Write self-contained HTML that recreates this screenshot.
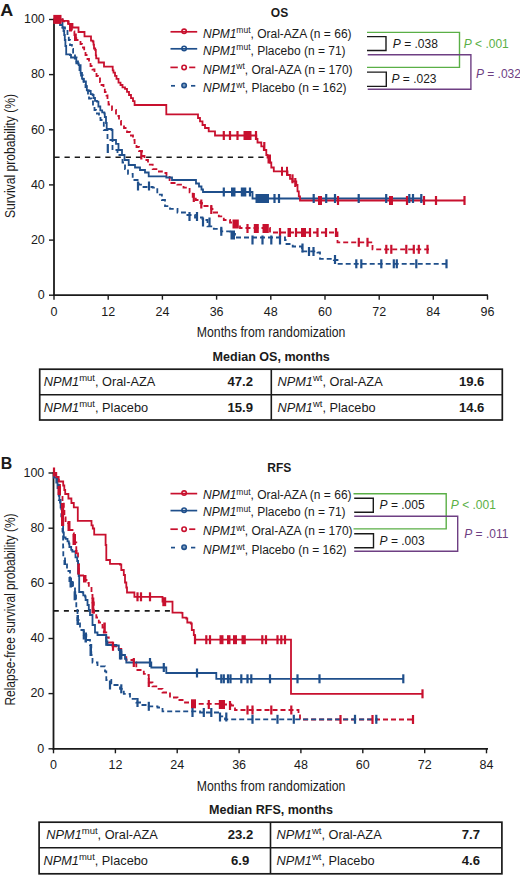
<!DOCTYPE html>
<html><head><meta charset="utf-8"><style>
html,body{margin:0;padding:0;background:#fff;}
body{width:520px;height:875px;overflow:hidden;}
svg{display:block;}
text{font-family:"Liberation Sans",sans-serif;fill:#1a1a1a;}
.pl{font-size:17px;font-weight:bold;}
.ttl{font-size:12px;font-weight:bold;}
.lg{font-size:12px;}
.pv{font-size:12px;}
.tk{font-size:12.5px;}
.ax{font-size:15.5px;}
.mt{font-size:12.5px;font-weight:bold;}
.tb{font-size:12.75px;}
.tbv{font-size:13.1px;font-weight:bold;}
</style></head><body>
<svg width="520" height="875" viewBox="0 0 520 875">
<text x="0.3" y="15.8" class="pl" textLength="13" lengthAdjust="spacingAndGlyphs">A</text>
<text x="270.8" y="17.3" class="ttl">OS</text>
<circle cx="184.1" cy="31.3" r="2.2" fill="#ffffff" stroke="#c8102e" stroke-width="1.6"/>
<line x1="170.5" y1="31.8" x2="197.2" y2="31.8" stroke="#c8102e" stroke-width="1.7"/>
<text x="203" y="37.5" class="lg"><tspan font-style="italic">NPM1</tspan><tspan dy="-4.2" font-size="8.5">mut</tspan><tspan dy="4.2">, Oral-AZA (n = 66)</tspan></text>
<circle cx="184.1" cy="48.4" r="2.2" fill="#ffffff" stroke="#1f4f8b" stroke-width="1.6"/>
<line x1="170.5" y1="48.8" x2="197.2" y2="48.8" stroke="#1f4f8b" stroke-width="1.7"/>
<text x="203" y="54.5" class="lg"><tspan font-style="italic">NPM1</tspan><tspan dy="-4.2" font-size="8.5">mut</tspan><tspan dy="4.2">, Placebo (n = 71)</tspan></text>
<circle cx="184.1" cy="67.4" r="2.2" fill="#ffffff" stroke="#c8102e" stroke-width="1.6"/>
<line x1="170.4" y1="67.4" x2="177.8" y2="67.4" stroke="#c8102e" stroke-width="1.7"/>
<line x1="189.2" y1="67.4" x2="195.3" y2="67.4" stroke="#c8102e" stroke-width="1.7"/>
<text x="203" y="73.5" class="lg"><tspan font-style="italic">NPM1</tspan><tspan dy="-4.2" font-size="8.5">wt</tspan><tspan dy="4.2">, Oral-AZA (n = 170)</tspan></text>
<circle cx="184.1" cy="85.4" r="2.2" fill="#7a9cc0" stroke="#1f4f8b" stroke-width="1.6"/>
<line x1="171" y1="85.8" x2="175" y2="85.8" stroke="#1f4f8b" stroke-width="1.7"/>
<line x1="191" y1="85.8" x2="195.3" y2="85.8" stroke="#1f4f8b" stroke-width="1.7"/>
<text x="203" y="91.9" class="lg"><tspan font-style="italic">NPM1</tspan><tspan dy="-4.2" font-size="8.5">wt</tspan><tspan dy="4.2">, Placebo (n = 162)</tspan></text>
<path d="M367.0,32.4 H459.5 V67.4 H367.0" fill="none" stroke="#5aaf46" stroke-width="1.4"/>
<path d="M367.7,54.8 H470.9 V89.2 H367.7" fill="none" stroke="#6e3f83" stroke-width="1.4"/>
<path d="M367.0,36.6 H386.0 V50.5 H367.0" fill="none" stroke="#1a1a1a" stroke-width="1.4"/>
<path d="M367.0,72.1 H386.3 V86.4 H367.0" fill="none" stroke="#1a1a1a" stroke-width="1.4"/>
<text x="392.8" y="47.6" class="pv" style="fill:#1a1a1a"><tspan font-style="italic">P</tspan> = .038</text>
<text x="391.5" y="83.4" class="pv" style="fill:#1a1a1a"><tspan font-style="italic">P</tspan> = .023</text>
<text x="463.7" y="47.6" class="pv" style="fill:#5aaf46"><tspan font-style="italic">P</tspan> &lt; .001</text>
<text x="475.9" y="77.7" class="pv" style="fill:#6e3f83"><tspan font-style="italic">P</tspan> = .032</text>
<line x1="54.0" y1="18.5" x2="54.0" y2="296.1" stroke="#1a1a1a" stroke-width="1.8"/>
<line x1="53.1" y1="295.2" x2="488.0" y2="295.2" stroke="#1a1a1a" stroke-width="1.8"/>
<line x1="49.0" y1="295.2" x2="54.0" y2="295.2" stroke="#1a1a1a" stroke-width="1.4"/>
<text x="44.8" y="299.0" text-anchor="end" class="tk">0</text>
<line x1="49.0" y1="240.1" x2="54.0" y2="240.1" stroke="#1a1a1a" stroke-width="1.4"/>
<text x="44.8" y="243.9" text-anchor="end" class="tk">20</text>
<line x1="49.0" y1="184.9" x2="54.0" y2="184.9" stroke="#1a1a1a" stroke-width="1.4"/>
<text x="44.8" y="188.7" text-anchor="end" class="tk">40</text>
<line x1="49.0" y1="129.8" x2="54.0" y2="129.8" stroke="#1a1a1a" stroke-width="1.4"/>
<text x="44.8" y="133.6" text-anchor="end" class="tk">60</text>
<line x1="49.0" y1="74.6" x2="54.0" y2="74.6" stroke="#1a1a1a" stroke-width="1.4"/>
<text x="44.8" y="78.4" text-anchor="end" class="tk">80</text>
<line x1="49.0" y1="19.5" x2="54.0" y2="19.5" stroke="#1a1a1a" stroke-width="1.4"/>
<text x="44.8" y="23.3" text-anchor="end" class="tk">100</text>
<line x1="54.0" y1="295.2" x2="54.0" y2="299.7" stroke="#1a1a1a" stroke-width="1.4"/>
<text x="54.0" y="315.6" text-anchor="middle" class="tk">0</text>
<line x1="108.2" y1="295.2" x2="108.2" y2="299.7" stroke="#1a1a1a" stroke-width="1.4"/>
<text x="108.2" y="315.6" text-anchor="middle" class="tk">12</text>
<line x1="162.4" y1="295.2" x2="162.4" y2="299.7" stroke="#1a1a1a" stroke-width="1.4"/>
<text x="162.4" y="315.6" text-anchor="middle" class="tk">24</text>
<line x1="216.6" y1="295.2" x2="216.6" y2="299.7" stroke="#1a1a1a" stroke-width="1.4"/>
<text x="216.6" y="315.6" text-anchor="middle" class="tk">36</text>
<line x1="270.8" y1="295.2" x2="270.8" y2="299.7" stroke="#1a1a1a" stroke-width="1.4"/>
<text x="270.8" y="315.6" text-anchor="middle" class="tk">48</text>
<line x1="325.0" y1="295.2" x2="325.0" y2="299.7" stroke="#1a1a1a" stroke-width="1.4"/>
<text x="325.0" y="315.6" text-anchor="middle" class="tk">60</text>
<line x1="379.2" y1="295.2" x2="379.2" y2="299.7" stroke="#1a1a1a" stroke-width="1.4"/>
<text x="379.2" y="315.6" text-anchor="middle" class="tk">72</text>
<line x1="433.3" y1="295.2" x2="433.3" y2="299.7" stroke="#1a1a1a" stroke-width="1.4"/>
<text x="433.3" y="315.6" text-anchor="middle" class="tk">84</text>
<line x1="487.5" y1="295.2" x2="487.5" y2="299.7" stroke="#1a1a1a" stroke-width="1.4"/>
<text x="487.5" y="315.6" text-anchor="middle" class="tk">96</text>
<line x1="54.3" y1="157.3" x2="266" y2="157.3" stroke="#1a1a1a" stroke-width="1.6" stroke-dasharray="5.3,4.9"/>
<path d="M54.0,19.5 H62.5 V27.5 H65.0 V30.0 H67.5 V36.3 H68.8 V40.0 H70.0 V45.0 H71.9 V48.8 H73.1 V52.5 H75.0 V57.5 H76.5 V61.5 H78.0 V66.0 H79.5 V71.0 H81.0 V75.5 H82.8 V79.0 H83.8 V83.5 H85.5 V87.0 H86.5 V90.5 H88.0 V94.5 H89.0 V98.5 H91.5 V101.5 H93.0 V106.0 H94.5 V110.0 H96.0 V113.5 H99.0 V118.0 H100.5 V120.0 H103.8 V130.0 H107.5 V140.0 H112.5 V150.0 H117.5 V155.0 H122.5 V162.5 H125.0 V169.2 H128.0 V173.8 H132.7 V180.0 H138.8 V184.6 H143.5 V187.0 H152.7 V187.7 H157.3 V194.6 H161.9 V200.0 H165.0 V206.2 H170.0 V208.8 H177.5 V212.5 H185.0 V215.0 H195.0 V217.5 H202.5 V220.0 H207.5 V226.3 H213.8 V228.8 H221.3 V231.3 H230.0 V233.8 H235.0 V237.5 H285.0 V240.0 H286.5 V244.0 H292.7 V246.5 H302.0 V248.0 H302.5 V251.3 H317.5 V252.5 H320.0 V258.8 H333.8 V260.0 H337.5 V263.8 H448.0 V263.8" fill="none" stroke="#1f4f8b" stroke-width="1.8" stroke-dasharray="5,3"/>
<path d="M54.0,19.5 H62.5 V21.3 H68.7 V23.8 H70.6 V27.5 H71.9 V31.3 H74.4 V35.0 H76.3 V40.0 H80.5 V44.0 H82.0 V47.5 H84.2 V52.0 H85.5 V55.0 H87.5 V59.0 H89.0 V62.0 H90.5 V66.0 H92.5 V69.5 H94.5 V72.5 H96.5 V76.0 H98.0 V78.5 H100.0 V82.0 H101.5 V85.0 H103.5 V88.5 H104.8 V92.0 H106.5 V95.5 H107.5 V99.0 H108.5 V104.5 H112.0 V110.0 H116.0 V116.0 H119.0 V121.0 H121.0 V124.5 H124.0 V128.0 H127.0 V132.0 H130.0 V135.5 H133.0 V140.0 H134.6 V143.0 H136.5 V147.0 H139.0 V151.0 H142.0 V156.0 H144.5 V160.0 H148.0 V164.6 H152.7 V169.2 H157.3 V171.5 H161.9 V173.0 H166.5 V175.4 H169.6 V183.0 H177.3 V184.6 H183.5 V187.7 H189.6 V192.3 H192.7 V196.9 H195.8 V200.0 H200.4 V203.0 H202.0 V206.0 H207.5 V206.0 H211.3 V208.8 H212.5 V212.5 H218.8 V216.3 H223.8 V220.0 H230.0 V222.5 H235.0 V225.0 H240.0 V228.0 H270.0 V232.5 H337.5 V242.3 H372.5 V249.3 H429.0 V249.3" fill="none" stroke="#c8102e" stroke-width="1.8" stroke-dasharray="5,3"/>
<path d="M54.0,19.5 H58.0 V22.0 H60.0 V25.0 H62.5 V27.5 H63.5 V31.0 H64.2 V35.0 H64.8 V40.0 H65.4 V46.0 H66.2 V54.3 H70.0 V55.0 H71.0 V57.5 H74.8 V58.5 H76.3 V63.3 H78.7 V65.2 H80.6 V72.9 H82.0 V78.7 H83.5 V81.5 H85.9 V85.9 H86.8 V90.4 H89.3 V91.0 H90.7 V94.2 H92.6 V95.0 H93.6 V98.0 H95.0 V100.8 H97.0 V101.7 H98.4 V106.5 H100.3 V110.4 H102.2 V112.3 H104.3 V113.5 H104.8 V117.0 H106.0 V123.0 H106.7 V129.0 H111.5 V130.0 H112.5 V140.0 H116.0 V143.8 H118.5 V150.0 H122.0 V155.0 H124.5 V160.0 H128.7 V165.0 H135.0 V167.5 H140.0 V170.0 H145.0 V172.5 H148.7 V176.3 H166.3 V177.5 H172.0 V180.0 H196.0 V183.5 H199.0 V186.5 H201.5 V189.5 H203.0 V192.0 H252.5 V198.5 H421.7 V198.5" fill="none" stroke="#1f4f8b" stroke-width="1.8"/>
<path d="M54.0,19.5 H62.5 V20.8 H68.0 V23.8 H72.5 V27.5 H78.5 V32.0 H84.5 V36.3 H91.0 V40.6 H92.7 V41.5 H93.5 V44.6 H94.0 V48.5 H95.2 V50.0 H95.8 V55.4 H96.2 V58.3 H98.6 V62.5 H104.0 V66.7 H112.7 V70.4 H113.5 V72.7 H115.0 V75.8 H116.5 V78.8 H118.5 V82.7 H120.5 V85.0 H122.5 V87.3 H125.0 V88.8 H127.0 V91.9 H129.0 V95.0 H131.0 V98.1 H133.0 V101.2 H134.6 V105.0 H166.3 V114.3 H198.0 V118.0 H200.0 V121.3 H202.5 V125.0 H205.0 V128.0 H208.7 V131.3 H215.0 V135.5 H256.3 V138.8 H257.5 V142.5 H261.3 V146.3 H263.8 V150.0 H266.3 V155.0 H267.5 V157.5 H270.0 V162.5 H271.3 V167.5 H273.8 V171.3 H287.5 V175.0 H290.0 V178.8 H292.5 V181.3 H296.3 V185.0 H297.5 V191.3 H298.8 V196.3 H300.0 V200.5 H465.0 V200.5" fill="none" stroke="#c8102e" stroke-width="1.8"/>
<rect x="53.3" y="14.9" width="8.2" height="9.0" fill="#c8102e"/>
<rect x="69" y="23.5" width="3" height="8" fill="#c8102e"/>
<rect x="74" y="33.5" width="2.8" height="7.5" fill="#c8102e"/>
<rect x="222.7" y="131.0" width="2.2" height="9.0" fill="#c8102e"/>
<rect x="228.9" y="131.0" width="2.2" height="9.0" fill="#c8102e"/>
<rect x="236.4" y="131.0" width="2.2" height="9.0" fill="#c8102e"/>
<rect x="243.5" y="131.0" width="8.0" height="9.0" fill="#c8102e"/>
<rect x="254.9" y="131.0" width="2.2" height="9.0" fill="#c8102e"/>
<rect x="263.2" y="142.0" width="2.2" height="9.0" fill="#c8102e"/>
<rect x="267.5" y="154.5" width="3.5" height="9.0" fill="#c8102e"/>
<rect x="281.0" y="166.8" width="2.0" height="9.0" fill="#c8102e"/>
<rect x="286.0" y="166.8" width="2.0" height="9.0" fill="#c8102e"/>
<rect x="291.4" y="174.3" width="2.2" height="9.0" fill="#c8102e"/>
<rect x="294.2" y="178.0" width="2.2" height="9.0" fill="#c8102e"/>
<rect x="318.0" y="196.0" width="4.0" height="9.0" fill="#c8102e"/>
<rect x="336.9" y="196.0" width="2.2" height="9.0" fill="#c8102e"/>
<rect x="389.0" y="196.0" width="4.0" height="9.0" fill="#c8102e"/>
<rect x="405.9" y="196.0" width="2.2" height="9.0" fill="#c8102e"/>
<rect x="422.9" y="196.0" width="2.2" height="9.0" fill="#c8102e"/>
<rect x="434.9" y="196.0" width="2.2" height="9.0" fill="#c8102e"/>
<rect x="463.4" y="196.0" width="2.2" height="9.0" fill="#c8102e"/>
<rect x="222.7" y="187.5" width="2.2" height="9.0" fill="#1f4f8b"/>
<rect x="231.0" y="187.5" width="4.5" height="9.0" fill="#1f4f8b"/>
<rect x="240.8" y="187.5" width="5.5" height="9.0" fill="#1f4f8b"/>
<rect x="248.9" y="187.5" width="2.2" height="9.0" fill="#1f4f8b"/>
<rect x="255.5" y="194.0" width="13.5" height="9.0" fill="#1f4f8b"/>
<rect x="273.4" y="194.0" width="2.2" height="9.0" fill="#1f4f8b"/>
<rect x="277.9" y="194.0" width="2.2" height="9.0" fill="#1f4f8b"/>
<rect x="312.6" y="194.0" width="2.2" height="9.0" fill="#1f4f8b"/>
<rect x="325.1" y="194.0" width="2.2" height="9.0" fill="#1f4f8b"/>
<rect x="333.9" y="194.0" width="2.2" height="9.0" fill="#1f4f8b"/>
<rect x="357.6" y="194.0" width="2.2" height="9.0" fill="#1f4f8b"/>
<rect x="385.1" y="194.0" width="2.2" height="9.0" fill="#1f4f8b"/>
<rect x="408.2" y="194.0" width="2.2" height="9.0" fill="#1f4f8b"/>
<rect x="411.9" y="194.0" width="2.2" height="9.0" fill="#1f4f8b"/>
<rect x="420.2" y="194.0" width="2.2" height="9.0" fill="#1f4f8b"/>
<rect x="192.7" y="193.0" width="2.2" height="9.0" fill="#c8102e"/>
<rect x="200.2" y="199.5" width="2.2" height="9.0" fill="#c8102e"/>
<rect x="210.2" y="205.0" width="2.2" height="9.0" fill="#c8102e"/>
<rect x="140.2" y="150.5" width="2.2" height="9.0" fill="#c8102e"/>
<rect x="232.5" y="219.5" width="6.3" height="9.0" fill="#c8102e"/>
<rect x="246.4" y="224.0" width="2.2" height="9.0" fill="#c8102e"/>
<rect x="253.8" y="224.0" width="5.0" height="9.0" fill="#c8102e"/>
<rect x="262.5" y="224.0" width="6.3" height="9.0" fill="#c8102e"/>
<rect x="278.9" y="228.0" width="2.2" height="9.0" fill="#c8102e"/>
<rect x="287.5" y="228.0" width="3.5" height="9.0" fill="#c8102e"/>
<rect x="294.9" y="228.0" width="2.2" height="9.0" fill="#c8102e"/>
<rect x="301.0" y="228.0" width="5.0" height="9.0" fill="#c8102e"/>
<rect x="308.9" y="228.0" width="2.2" height="9.0" fill="#c8102e"/>
<rect x="316.4" y="228.0" width="2.2" height="9.0" fill="#c8102e"/>
<rect x="324.9" y="228.0" width="2.2" height="9.0" fill="#c8102e"/>
<rect x="334.9" y="228.0" width="2.2" height="9.0" fill="#c8102e"/>
<rect x="357.7" y="237.8" width="2.2" height="9.0" fill="#c8102e"/>
<rect x="366.4" y="237.8" width="2.2" height="9.0" fill="#c8102e"/>
<rect x="385.2" y="244.8" width="2.2" height="9.0" fill="#c8102e"/>
<rect x="390.2" y="244.8" width="2.2" height="9.0" fill="#c8102e"/>
<rect x="405.2" y="244.8" width="2.2" height="9.0" fill="#c8102e"/>
<rect x="412.7" y="244.8" width="2.2" height="9.0" fill="#c8102e"/>
<rect x="417.7" y="244.8" width="2.2" height="9.0" fill="#c8102e"/>
<rect x="426.4" y="244.8" width="2.2" height="9.0" fill="#c8102e"/>
<rect x="106.7" y="144.0" width="2.2" height="9.0" fill="#1f4f8b"/>
<rect x="136.9" y="181.5" width="2.2" height="9.0" fill="#1f4f8b"/>
<rect x="147.9" y="181.5" width="2.2" height="9.0" fill="#1f4f8b"/>
<rect x="188.4" y="212.0" width="2.2" height="9.0" fill="#1f4f8b"/>
<rect x="195.9" y="212.0" width="2.2" height="9.0" fill="#1f4f8b"/>
<rect x="201.9" y="217.5" width="2.2" height="9.0" fill="#1f4f8b"/>
<rect x="208.4" y="217.5" width="2.2" height="9.0" fill="#1f4f8b"/>
<rect x="220.2" y="226.8" width="2.2" height="9.0" fill="#1f4f8b"/>
<rect x="230.5" y="230.5" width="4.5" height="9.0" fill="#1f4f8b"/>
<rect x="251.4" y="235.5" width="2.2" height="9.0" fill="#1f4f8b"/>
<rect x="261.4" y="235.5" width="2.2" height="9.0" fill="#1f4f8b"/>
<rect x="270.2" y="235.5" width="2.2" height="9.0" fill="#1f4f8b"/>
<rect x="278.9" y="235.5" width="2.2" height="9.0" fill="#1f4f8b"/>
<rect x="301.4" y="243.5" width="2.2" height="9.0" fill="#1f4f8b"/>
<rect x="307.9" y="247.0" width="2.2" height="9.0" fill="#1f4f8b"/>
<rect x="312.4" y="247.0" width="2.2" height="9.0" fill="#1f4f8b"/>
<rect x="333.9" y="255.0" width="2.2" height="9.0" fill="#1f4f8b"/>
<rect x="355.2" y="259.3" width="2.2" height="9.0" fill="#1f4f8b"/>
<rect x="360.2" y="259.3" width="2.2" height="9.0" fill="#1f4f8b"/>
<rect x="380.2" y="259.3" width="2.2" height="9.0" fill="#1f4f8b"/>
<rect x="392.7" y="259.3" width="2.2" height="9.0" fill="#1f4f8b"/>
<rect x="395.7" y="259.3" width="2.2" height="9.0" fill="#1f4f8b"/>
<rect x="415.2" y="259.3" width="2.2" height="9.0" fill="#1f4f8b"/>
<rect x="445.4" y="259.3" width="2.2" height="9.0" fill="#1f4f8b"/>
<text x="15.3" y="218" class="ax" transform="rotate(-90 15.3 218)" textLength="124" lengthAdjust="spacingAndGlyphs">Survival probability (%)</text>
<text x="196.8" y="337.1" class="ax" textLength="148.6" lengthAdjust="spacingAndGlyphs">Months from randomization</text>
<text x="212.6" y="360.5" class="mt" textLength="117.2" lengthAdjust="spacingAndGlyphs">Median OS, months</text>
<rect x="39.7" y="369.2" width="462.6" height="50.8" fill="none" stroke="#1a1a1a" stroke-width="1.7"/>
<line x1="39.7" y1="394.8" x2="502.3" y2="394.8" stroke="#1a1a1a" stroke-width="1.6"/>
<line x1="271.3" y1="369.2" x2="271.3" y2="420.0" stroke="#1a1a1a" stroke-width="1.6"/>
<text x="43.7" y="385.6" class="tb"><tspan font-style="italic">NPM1</tspan><tspan dy="-4.8" font-size="9.5">mut</tspan><tspan dy="4.8">, Oral-AZA</tspan></text>
<text x="253.0" y="385.6" class="tbv" text-anchor="end">47.2</text>
<text x="43.7" y="411.7" class="tb"><tspan font-style="italic">NPM1</tspan><tspan dy="-4.8" font-size="9.5">mut</tspan><tspan dy="4.8">, Placebo</tspan></text>
<text x="253.0" y="411.7" class="tbv" text-anchor="end">15.9</text>
<text x="277.5" y="385.6" class="tb"><tspan font-style="italic">NPM1</tspan><tspan dy="-4.8" font-size="9.5">wt</tspan><tspan dy="4.8">, Oral-AZA</tspan></text>
<text x="484.4" y="385.6" class="tbv" text-anchor="end">19.6</text>
<text x="277.5" y="411.7" class="tb"><tspan font-style="italic">NPM1</tspan><tspan dy="-4.8" font-size="9.5">wt</tspan><tspan dy="4.8">, Placebo</tspan></text>
<text x="484.4" y="411.7" class="tbv" text-anchor="end">14.6</text>
<text x="0.8" y="469.1" class="pl" textLength="11.5" lengthAdjust="spacingAndGlyphs">B</text>
<text x="267.3" y="471.8" class="ttl">RFS</text>
<circle cx="184.1" cy="493.1" r="2.2" fill="#ffffff" stroke="#c8102e" stroke-width="1.6"/>
<line x1="170.5" y1="493.6" x2="197.2" y2="493.6" stroke="#c8102e" stroke-width="1.7"/>
<text x="203" y="499.3" class="lg"><tspan font-style="italic">NPM1</tspan><tspan dy="-4.2" font-size="8.5">mut</tspan><tspan dy="4.2">, Oral-AZA (n = 66)</tspan></text>
<circle cx="184.1" cy="510.2" r="2.2" fill="#ffffff" stroke="#1f4f8b" stroke-width="1.6"/>
<line x1="170.5" y1="510.6" x2="197.2" y2="510.6" stroke="#1f4f8b" stroke-width="1.7"/>
<text x="203" y="516.3" class="lg"><tspan font-style="italic">NPM1</tspan><tspan dy="-4.2" font-size="8.5">mut</tspan><tspan dy="4.2">, Placebo (n = 71)</tspan></text>
<circle cx="184.1" cy="529.2" r="2.2" fill="#ffffff" stroke="#c8102e" stroke-width="1.6"/>
<line x1="170.4" y1="529.2" x2="177.8" y2="529.2" stroke="#c8102e" stroke-width="1.7"/>
<line x1="189.2" y1="529.2" x2="195.3" y2="529.2" stroke="#c8102e" stroke-width="1.7"/>
<text x="203" y="535.3" class="lg"><tspan font-style="italic">NPM1</tspan><tspan dy="-4.2" font-size="8.5">wt</tspan><tspan dy="4.2">, Oral-AZA (n = 170)</tspan></text>
<circle cx="184.1" cy="547.2" r="2.2" fill="#7a9cc0" stroke="#1f4f8b" stroke-width="1.6"/>
<line x1="171" y1="547.6" x2="175" y2="547.6" stroke="#1f4f8b" stroke-width="1.7"/>
<line x1="191" y1="547.6" x2="195.3" y2="547.6" stroke="#1f4f8b" stroke-width="1.7"/>
<text x="203" y="553.7" class="lg"><tspan font-style="italic">NPM1</tspan><tspan dy="-4.2" font-size="8.5">wt</tspan><tspan dy="4.2">, Placebo (n = 162)</tspan></text>
<path d="M353.5,493.8 H446.2 V528.9 H353.5" fill="none" stroke="#5aaf46" stroke-width="1.4"/>
<path d="M354.2,516.2 H457.7 V551.3 H354.2" fill="none" stroke="#6e3f83" stroke-width="1.4"/>
<path d="M354.2,498.2 H373.3 V512.3 H354.2" fill="none" stroke="#1a1a1a" stroke-width="1.4"/>
<path d="M354.2,533.8 H373.5 V547.7 H354.2" fill="none" stroke="#1a1a1a" stroke-width="1.4"/>
<text x="379.6" y="509.2" class="pv" style="fill:#1a1a1a"><tspan font-style="italic">P</tspan> = .005</text>
<text x="379.6" y="544.6" class="pv" style="fill:#1a1a1a"><tspan font-style="italic">P</tspan> = .003</text>
<text x="450.8" y="508.8" class="pv" style="fill:#5aaf46"><tspan font-style="italic">P</tspan> &lt; .001</text>
<text x="464.2" y="537.7" class="pv" style="fill:#6e3f83"><tspan font-style="italic">P</tspan> = .011</text>
<line x1="53.5" y1="472.0" x2="53.5" y2="749.7" stroke="#1a1a1a" stroke-width="1.8"/>
<line x1="52.6" y1="748.8" x2="488.0" y2="748.8" stroke="#1a1a1a" stroke-width="1.8"/>
<line x1="48.5" y1="748.8" x2="53.5" y2="748.8" stroke="#1a1a1a" stroke-width="1.4"/>
<text x="44.3" y="752.6" text-anchor="end" class="tk">0</text>
<line x1="48.5" y1="693.6" x2="53.5" y2="693.6" stroke="#1a1a1a" stroke-width="1.4"/>
<text x="44.3" y="697.4" text-anchor="end" class="tk">20</text>
<line x1="48.5" y1="638.5" x2="53.5" y2="638.5" stroke="#1a1a1a" stroke-width="1.4"/>
<text x="44.3" y="642.3" text-anchor="end" class="tk">40</text>
<line x1="48.5" y1="583.3" x2="53.5" y2="583.3" stroke="#1a1a1a" stroke-width="1.4"/>
<text x="44.3" y="587.1" text-anchor="end" class="tk">60</text>
<line x1="48.5" y1="528.2" x2="53.5" y2="528.2" stroke="#1a1a1a" stroke-width="1.4"/>
<text x="44.3" y="532.0" text-anchor="end" class="tk">80</text>
<line x1="48.5" y1="473.0" x2="53.5" y2="473.0" stroke="#1a1a1a" stroke-width="1.4"/>
<text x="44.3" y="476.8" text-anchor="end" class="tk">100</text>
<line x1="53.5" y1="748.8" x2="53.5" y2="753.3" stroke="#1a1a1a" stroke-width="1.4"/>
<text x="53.5" y="769.0" text-anchor="middle" class="tk">0</text>
<line x1="115.4" y1="748.8" x2="115.4" y2="753.3" stroke="#1a1a1a" stroke-width="1.4"/>
<text x="115.4" y="769.0" text-anchor="middle" class="tk">12</text>
<line x1="177.2" y1="748.8" x2="177.2" y2="753.3" stroke="#1a1a1a" stroke-width="1.4"/>
<text x="177.2" y="769.0" text-anchor="middle" class="tk">24</text>
<line x1="239.1" y1="748.8" x2="239.1" y2="753.3" stroke="#1a1a1a" stroke-width="1.4"/>
<text x="239.1" y="769.0" text-anchor="middle" class="tk">36</text>
<line x1="300.9" y1="748.8" x2="300.9" y2="753.3" stroke="#1a1a1a" stroke-width="1.4"/>
<text x="300.9" y="769.0" text-anchor="middle" class="tk">48</text>
<line x1="362.8" y1="748.8" x2="362.8" y2="753.3" stroke="#1a1a1a" stroke-width="1.4"/>
<text x="362.8" y="769.0" text-anchor="middle" class="tk">60</text>
<line x1="424.7" y1="748.8" x2="424.7" y2="753.3" stroke="#1a1a1a" stroke-width="1.4"/>
<text x="424.7" y="769.0" text-anchor="middle" class="tk">72</text>
<line x1="486.5" y1="748.8" x2="486.5" y2="753.3" stroke="#1a1a1a" stroke-width="1.4"/>
<text x="486.5" y="769.0" text-anchor="middle" class="tk">84</text>
<line x1="53.8" y1="610.9" x2="171.5" y2="610.9" stroke="#1a1a1a" stroke-width="1.6" stroke-dasharray="5,5.1"/>
<path d="M53.5,473.0 H55.0 V475.0 H57.0 V480.0 H58.8 V485.0 H60.0 V495.0 H62.5 V502.5 H63.8 V510.0 H64.4 V517.5 H65.6 V521.9 H68.1 V523.1 H68.8 V530.0 H72.5 V533.1 H73.8 V536.3 H75.0 V542.5 H76.3 V552.5 H76.5 V552.5 H78.0 V564.0 H78.8 V575.5 H84.5 V580.0 H86.5 V583.0 H88.8 V587.0 H91.5 V595.0 H92.5 V602.5 H93.8 V612.5 H96.3 V617.5 H98.8 V622.5 H102.5 V627.5 H103.8 V632.5 H106.3 V637.5 H108.8 V642.5 H112.5 V646.3 H117.5 V648.8 H121.3 V655.0 H126.3 V660.0 H133.8 V662.5 H136.3 V670.0 H143.8 V673.8 H147.5 V675.0 H148.8 V682.5 H152.5 V686.3 H157.5 V688.8 H162.5 V692.5 H170.0 V697.5 H177.5 V700.0 H185.0 V702.5 H192.5 V703.8 H220.0 V704.5 H231.3 V705.5 H235.0 V710.0 H297.7 V710.0 H298.5 V713.8 H300.0 V719.5 H413.0 V719.5" fill="none" stroke="#c8102e" stroke-width="1.8" stroke-dasharray="5,3"/>
<path d="M53.5,473.0 H53.8 V477.5 H57.5 V485.0 H58.8 V500.0 H60.0 V506.3 H61.3 V516.3 H62.5 V531.3 H63.1 V537.5 H63.1 V547.5 H63.3 V557.0 H65.0 V563.0 H67.0 V571.0 H70.0 V580.0 H73.0 V587.0 H75.0 V592.0 H76.0 V600.0 H76.3 V610.0 H77.5 V620.0 H80.0 V630.0 H83.8 V635.0 H86.3 V640.0 H90.0 V645.0 H91.3 V655.0 H92.5 V662.5 H97.5 V666.3 H105.0 V671.3 H106.3 V680.0 H111.3 V685.0 H120.0 V688.8 H123.8 V693.8 H130.0 V698.8 H136.3 V702.5 H141.3 V705.0 H148.8 V706.3 H157.5 V707.5 H162.5 V711.3 H200.0 V712.5 H220.0 V716.3 H225.0 V719.3 H378.0 V719.3" fill="none" stroke="#1f4f8b" stroke-width="1.8" stroke-dasharray="5,3"/>
<path d="M53.5,473.0 H54.5 V477.5 H56.3 V482.5 H57.5 V488.0 H58.8 V495.0 H59.4 V500.0 H60.6 V507.5 H61.9 V515.0 H62.5 V525.0 H63.1 V532.5 H63.8 V537.5 H65.6 V538.8 H67.5 V541.3 H68.8 V543.5 H69.4 V547.0 H71.2 V549.8 H72.3 V551.5 H75.5 V557.3 H77.2 V561.0 H78.1 V573.5 H78.7 V576.0 H79.2 V592.0 H82.7 V592.5 H83.3 V595.4 H85.0 V596.5 H85.6 V600.0 H87.5 V605.0 H88.8 V610.0 H90.0 V615.0 H92.5 V625.0 H95.0 V632.5 H97.5 V635.0 H103.8 V635.0 H106.3 V641.3 H107.5 V645.0 H116.3 V645.5 H118.8 V650.0 H121.3 V655.0 H125.0 V658.8 H126.3 V662.5 H150.0 V662.5 H151.3 V667.5 H163.8 V667.5 H166.3 V673.0 H215.0 V673.0 H216.3 V678.8 H403.3 V678.8" fill="none" stroke="#1f4f8b" stroke-width="1.8"/>
<path d="M53.5,473.0 H56.3 V477.0 H58.7 V481.5 H63.2 V485.5 H64.3 V490.0 H65.2 V494.0 H68.4 V498.5 H71.4 V503.0 H73.8 V507.3 H77.8 V520.8 H91.5 V525.4 H92.8 V528.5 H94.2 V534.6 H105.6 V545.0 H106.3 V560.0 H110.0 V563.8 H120.0 V564.5 H121.3 V570.0 H123.8 V575.0 H125.0 V582.5 H126.3 V587.5 H127.0 V592.5 H134.4 V596.8 H162.5 V601.7 H172.5 V612.7 H181.5 V612.8 H182.5 V617.7 H186.3 V618.5 H187.3 V622.5 H190.8 V623.5 H191.8 V630.0 H193.8 V635.0 H195.0 V639.7 H291.0 V639.7 H291.0 V693.8 H422.5 V693.8" fill="none" stroke="#c8102e" stroke-width="1.8"/>
<rect x="52.9" y="467.5" width="2.2" height="9.0" fill="#c8102e"/>
<rect x="136.4" y="592.3" width="2.2" height="9.0" fill="#c8102e"/>
<rect x="139.9" y="592.3" width="2.2" height="9.0" fill="#c8102e"/>
<rect x="148.9" y="592.3" width="2.2" height="9.0" fill="#c8102e"/>
<rect x="162.3" y="597.2" width="3.9" height="9.0" fill="#c8102e"/>
<rect x="193.9" y="635.2" width="2.2" height="9.0" fill="#c8102e"/>
<rect x="205.2" y="635.2" width="2.2" height="9.0" fill="#c8102e"/>
<rect x="208.9" y="635.2" width="2.2" height="9.0" fill="#c8102e"/>
<rect x="219.5" y="635.2" width="4.0" height="9.0" fill="#c8102e"/>
<rect x="227.0" y="635.2" width="3.5" height="9.0" fill="#c8102e"/>
<rect x="233.0" y="635.2" width="4.0" height="9.0" fill="#c8102e"/>
<rect x="241.5" y="635.2" width="4.3" height="9.0" fill="#c8102e"/>
<rect x="261.2" y="635.2" width="2.2" height="9.0" fill="#c8102e"/>
<rect x="264.9" y="635.2" width="2.2" height="9.0" fill="#c8102e"/>
<rect x="276.4" y="635.2" width="2.2" height="9.0" fill="#c8102e"/>
<rect x="280.2" y="635.2" width="2.2" height="9.0" fill="#c8102e"/>
<rect x="283.9" y="635.2" width="2.2" height="9.0" fill="#c8102e"/>
<rect x="421.4" y="689.3" width="2.2" height="9.0" fill="#c8102e"/>
<rect x="105.2" y="636.8" width="2.2" height="9.0" fill="#1f4f8b"/>
<rect x="118.9" y="650.5" width="2.2" height="9.0" fill="#1f4f8b"/>
<rect x="120.2" y="650.5" width="2.2" height="9.0" fill="#1f4f8b"/>
<rect x="148.9" y="658.0" width="2.2" height="9.0" fill="#1f4f8b"/>
<rect x="162.7" y="663.0" width="2.2" height="9.0" fill="#1f4f8b"/>
<rect x="195.9" y="668.5" width="2.2" height="9.0" fill="#1f4f8b"/>
<rect x="220.2" y="674.3" width="2.2" height="9.0" fill="#1f4f8b"/>
<rect x="222.7" y="674.3" width="2.2" height="9.0" fill="#1f4f8b"/>
<rect x="226.9" y="674.3" width="2.2" height="9.0" fill="#1f4f8b"/>
<rect x="229.4" y="674.3" width="2.2" height="9.0" fill="#1f4f8b"/>
<rect x="240.2" y="674.3" width="2.2" height="9.0" fill="#1f4f8b"/>
<rect x="246.4" y="674.3" width="2.2" height="9.0" fill="#1f4f8b"/>
<rect x="250.2" y="674.3" width="2.2" height="9.0" fill="#1f4f8b"/>
<rect x="268.9" y="674.3" width="2.2" height="9.0" fill="#1f4f8b"/>
<rect x="296.4" y="674.3" width="2.2" height="9.0" fill="#1f4f8b"/>
<rect x="318.4" y="674.3" width="2.2" height="9.0" fill="#1f4f8b"/>
<rect x="402.2" y="674.3" width="2.2" height="9.0" fill="#1f4f8b"/>
<rect x="57.5" y="486" width="3.5" height="9" fill="#c8102e"/>
<rect x="61" y="503" width="3.2" height="23" fill="#c8102e"/>
<rect x="67.5" y="521" width="3" height="10" fill="#c8102e"/>
<rect x="72.5" y="534" width="3.5" height="11" fill="#c8102e"/>
<rect x="75" y="550" width="2.5" height="4" fill="#c8102e"/>
<rect x="77.3" y="564" width="2.6" height="10.5" fill="#c8102e"/>
<rect x="83" y="575" width="3.5" height="7.5" fill="#c8102e"/>
<rect x="91.5" y="597.5" width="2.8" height="16" fill="#c8102e"/>
<rect x="103.3" y="622.5" width="2.5" height="10" fill="#c8102e"/>
<rect x="111.9" y="641.8" width="2.2" height="9.0" fill="#c8102e"/>
<rect x="132.7" y="658.0" width="2.2" height="9.0" fill="#c8102e"/>
<rect x="147.7" y="678.0" width="2.2" height="9.0" fill="#c8102e"/>
<rect x="191.0" y="699.3" width="5.0" height="9.0" fill="#c8102e"/>
<rect x="207.7" y="700.0" width="2.2" height="9.0" fill="#c8102e"/>
<rect x="218.8" y="700.0" width="6.2" height="9.0" fill="#c8102e"/>
<rect x="228.9" y="701.0" width="2.2" height="9.0" fill="#c8102e"/>
<rect x="246.4" y="705.5" width="2.2" height="9.0" fill="#c8102e"/>
<rect x="251.4" y="705.5" width="2.2" height="9.0" fill="#c8102e"/>
<rect x="270.2" y="705.5" width="2.2" height="9.0" fill="#c8102e"/>
<rect x="290.2" y="705.5" width="2.2" height="9.0" fill="#c8102e"/>
<rect x="339.4" y="715.0" width="2.2" height="9.0" fill="#c8102e"/>
<rect x="371.4" y="715.0" width="2.2" height="9.0" fill="#c8102e"/>
<rect x="411.9" y="715.0" width="2.2" height="9.0" fill="#c8102e"/>
<rect x="63.5" y="560" width="2.5" height="5" fill="#1f4f8b"/>
<rect x="69.5" y="577.5" width="2.5" height="10" fill="#1f4f8b"/>
<rect x="73.6" y="591.3" width="2.6" height="9" fill="#1f4f8b"/>
<rect x="68.5" y="577" width="2.5" height="5" fill="#1f4f8b"/>
<rect x="70.7" y="581" width="2.5" height="6" fill="#1f4f8b"/>
<rect x="76.5" y="615" width="2.5" height="10" fill="#1f4f8b"/>
<rect x="84.5" y="632.5" width="2.5" height="10" fill="#1f4f8b"/>
<rect x="89.5" y="645" width="2.5" height="11" fill="#1f4f8b"/>
<rect x="82.7" y="630.5" width="2.2" height="9.0" fill="#1f4f8b"/>
<rect x="108.9" y="680.5" width="2.2" height="9.0" fill="#1f4f8b"/>
<rect x="120.2" y="684.3" width="2.2" height="9.0" fill="#1f4f8b"/>
<rect x="136.4" y="698.0" width="2.2" height="9.0" fill="#1f4f8b"/>
<rect x="147.7" y="701.8" width="2.2" height="9.0" fill="#1f4f8b"/>
<rect x="191.4" y="708.0" width="2.2" height="9.0" fill="#1f4f8b"/>
<rect x="202.7" y="708.0" width="2.2" height="9.0" fill="#1f4f8b"/>
<rect x="210.2" y="708.0" width="2.2" height="9.0" fill="#1f4f8b"/>
<rect x="218.9" y="712.5" width="2.2" height="9.0" fill="#1f4f8b"/>
<rect x="225.2" y="712.5" width="2.2" height="9.0" fill="#1f4f8b"/>
<rect x="251.4" y="714.8" width="2.2" height="9.0" fill="#1f4f8b"/>
<rect x="276.4" y="714.8" width="2.2" height="9.0" fill="#1f4f8b"/>
<rect x="292.7" y="714.8" width="2.2" height="9.0" fill="#1f4f8b"/>
<rect x="353.9" y="714.8" width="2.2" height="9.0" fill="#1f4f8b"/>
<rect x="375.2" y="714.8" width="2.2" height="9.0" fill="#1f4f8b"/>
<text x="15.3" y="705.6" class="ax" transform="rotate(-90 15.3 705.6)" textLength="192.2" lengthAdjust="spacingAndGlyphs">Relapse-free survival probability (%)</text>
<text x="196.8" y="790.5" class="ax" textLength="148.6" lengthAdjust="spacingAndGlyphs">Months from randomization</text>
<text x="209" y="813.5" class="mt" textLength="124" lengthAdjust="spacingAndGlyphs">Median RFS, months</text>
<rect x="39.1" y="822.2" width="462.8" height="51.6" fill="none" stroke="#1a1a1a" stroke-width="1.7"/>
<line x1="39.1" y1="847.8" x2="501.9" y2="847.8" stroke="#1a1a1a" stroke-width="1.6"/>
<line x1="270.5" y1="822.2" x2="270.5" y2="873.8" stroke="#1a1a1a" stroke-width="1.6"/>
<text x="46.3" y="838.8" class="tb"><tspan font-style="italic">NPM1</tspan><tspan dy="-4.8" font-size="9.5">mut</tspan><tspan dy="4.8">, Oral-AZA</tspan></text>
<text x="253.2" y="838.8" class="tbv" text-anchor="end">23.2</text>
<text x="43.5" y="864.8" class="tb"><tspan font-style="italic">NPM1</tspan><tspan dy="-4.8" font-size="9.5">mut</tspan><tspan dy="4.8">, Placebo</tspan></text>
<text x="249.2" y="864.8" class="tbv" text-anchor="end">6.9</text>
<text x="276.5" y="838.8" class="tb"><tspan font-style="italic">NPM1</tspan><tspan dy="-4.8" font-size="9.5">wt</tspan><tspan dy="4.8">, Oral-AZA</tspan></text>
<text x="480.0" y="838.8" class="tbv" text-anchor="end">7.7</text>
<text x="276.5" y="864.8" class="tb"><tspan font-style="italic">NPM1</tspan><tspan dy="-4.8" font-size="9.5">wt</tspan><tspan dy="4.8">, Placebo</tspan></text>
<text x="480.0" y="864.8" class="tbv" text-anchor="end">4.6</text>
</svg>
</body></html>
